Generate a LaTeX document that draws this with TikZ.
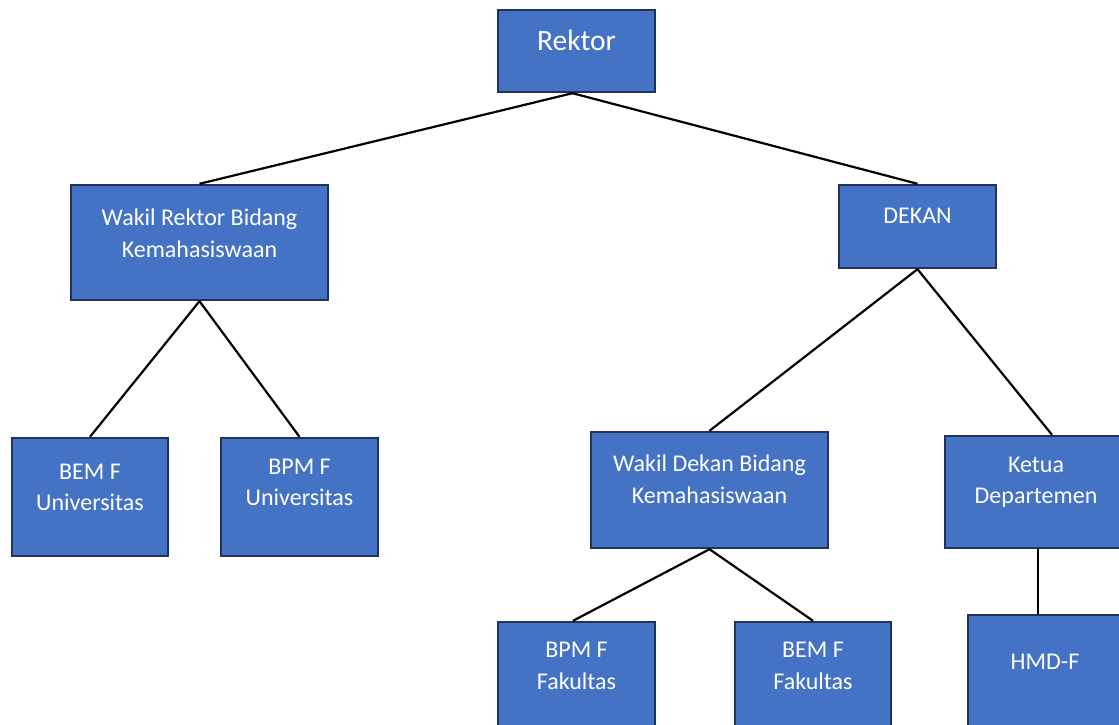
\documentclass[tikz,border=0pt]{standalone}
\usepackage{fontspec}
\setmainfont{Carlito}
\definecolor{boxfill}{HTML}{4472C4}
\definecolor{boxline}{HTML}{1F3458}
\begin{document}
\begin{tikzpicture}[x=1pt,y=-1pt,
  box/.style={draw=boxline,line width=2.4pt,fill=boxfill,rectangle,inner sep=0pt},
  lbl/.style={text=white,align=center,font=\fontsize{24}{31.5}\selectfont},
  conn/.style={draw=black,line width=2.2pt}]
\useasboundingbox (0,0) rectangle (1119,724);
\clip (0,0) rectangle (1119,724);
\node[box,minimum width=157pt,minimum height=82pt] (rektor) at (576.5,51) {};
\node[box,minimum width=257pt,minimum height=115pt] (wr) at (199.5,242.5) {};
\node[box,minimum width=157pt,minimum height=83pt] (dekan) at (917.5,226.5) {};
\node[box,minimum width=156pt,minimum height=118pt] (bemu) at (90,497) {};
\node[box,minimum width=157pt,minimum height=118pt] (bpmu) at (299.5,497) {};
\node[box,minimum width=237pt,minimum height=116pt] (wd) at (709.5,490) {};
\node[box,minimum width=182pt,minimum height=112pt] (ketua) at (1036,492) {};
\node[box,minimum width=157pt,minimum height=118pt] (bpmf) at (576.5,681) {};
\node[box,minimum width=156pt,minimum height=118pt] (bemf) at (813,681) {};
\node[box,minimum width=154pt,minimum height=120pt] (hmd) at (1045,675) {};

\node[lbl,font=\fontsize{29.5}{34}\selectfont] (trektor) at ([yshift=-32pt]rektor.north) {Rektor};
\node[lbl] (twr) at ([yshift=-49.5pt]wr.north) {Wakil Rektor Bidang\\Kemahasiswaan};
\node[lbl] (tdekan) at ([yshift=-32pt]dekan.north) {DEKAN};
\node[lbl] (tbemu) at ([yshift=-50.5pt]bemu.north) {BEM F\\Universitas};
\node[lbl] (tbpmu) at ([yshift=-45.5pt]bpmu.north) {BPM F\\Universitas};
\node[lbl] (twd) at ([yshift=-48.5pt]wd.north) {Wakil Dekan Bidang\\Kemahasiswaan};
\node[lbl] (tketua) at ([yshift=-47.5pt]ketua.north) {Ketua\\Departemen};
\node[lbl] (tbpmf) at ([yshift=-45pt]bpmf.north) {BPM F\\Fakultas};
\node[lbl] (tbemf) at ([yshift=-45pt]bemf.north) {BEM F\\Fakultas};
\node[lbl] (thmd) at ([yshift=-47.5pt]hmd.north) {HMD-F};

\draw[conn] ([xshift=-4pt]rektor.south) -- (wr.north);
\draw[conn] ([xshift=-4pt]rektor.south) -- (dekan.north);
\draw[conn] (wr.south) -- (bemu.north);
\draw[conn] (wr.south) -- (bpmu.north);
\draw[conn] (dekan.south) -- (wd.north);
\draw[conn] (dekan.south) -- ([xshift=16pt]ketua.north);
\draw[conn] (wd.south) -- ([xshift=-3.5pt]bpmf.north);
\draw[conn] (wd.south) -- (bemf.north);
\draw[conn] ([xshift=2pt]ketua.south) -- ([xshift=2pt]ketua.south |- hmd.north);
\end{tikzpicture}
\end{document}
